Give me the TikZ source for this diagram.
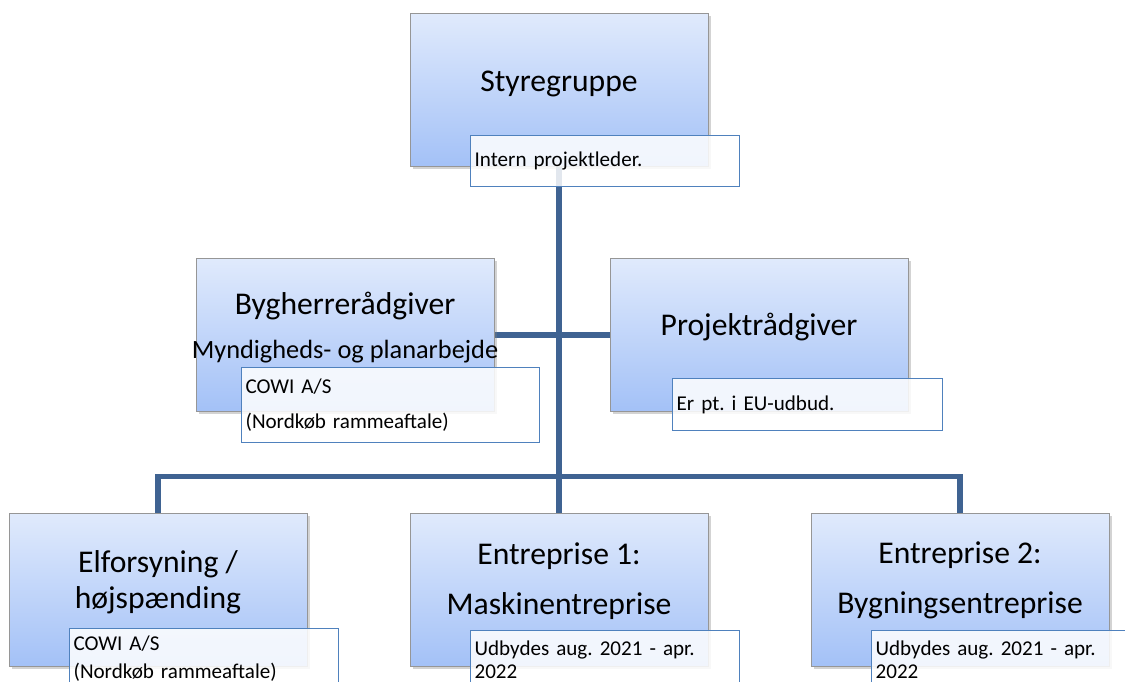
\documentclass[tikz,border=0pt]{standalone}
\usepackage{fontspec}
\setmainfont{Carlito}
\frenchspacing
\usetikzlibrary{shadows,backgrounds}
\definecolor{boxtop}{RGB}{224,234,252}
\definecolor{boxbot}{RGB}{163,193,247}
\definecolor{boxedge}{RGB}{150,150,150}
\definecolor{noteedge}{RGB}{79,129,189}
\definecolor{linkblue}{RGB}{63,99,146}
\newcommand{\subsize}{\fontsize{15}{18}\selectfont}
\tikzset{
  every picture/.style={line join=miter, x=0.02cm, y=-0.02cm},
  orgbox/.style={draw=boxedge, line width=0.5pt, top color=boxtop, bottom color=boxbot,
    minimum width=5.96cm, minimum height=3.06cm,
    drop shadow={opacity=0.35, shadow xshift=1.5pt, shadow yshift=-1.5pt}},
  orgtext/.style={font=\fontsize{18}{20}\selectfont, align=center, anchor=base, inner sep=0pt},
  notebox/.style={draw=noteedge, line width=0.7pt, fill=white, fill opacity=0.85, text opacity=1,
    anchor=north west, align=left, text width=5.22cm, inner xsep=0.08cm, inner ysep=0pt,
    font=\fontsize{12}{14.4}\selectfont},
  link/.style={draw=linkblue, line width=3.2pt},
}

\begin{document}
\begin{tikzpicture}
\useasboundingbox (0,0) rectangle (1125,682);
\clip (0,0) rectangle (1125,682);

% top
\node[orgbox] (styr) at (559,90) {};
\node[orgtext] (styrtxt) at (559,92) {Styregruppe};
\node[notebox, minimum height=1.02cm] (styrnote) at (470,135) {Intern projektleder.};

% middle row (base = last line)
\node[orgbox] (byg) at (345,335) {};
\node[orgtext] (bygtxt) at (345,358) {Bygherrerådgiver\\[5pt]{\subsize Myndigheds- og planarbejde}};
\node[orgbox] (proj) at (759,335) {};
\node[orgtext] (projtxt) at (759,335) {Projektrådgiver};
\node[notebox, text width=5.8cm, minimum height=1.5cm] (bygnote) at (241,367)
  {COWI A/S\\[5pt](Nordkøb rammeaftale)};
\node[notebox, text width=5.24cm, minimum height=1.04cm] (projnote) at (672,378) {Er pt. i EU-udbud.};

% bottom row
\node[orgbox] (elf) at (158,590) {};
\node[orgtext] (elftxt) at (158,608) {Elforsyning /\\højspænding};
\node[orgbox] (ent1) at (559,590) {};
\node[orgtext] (ent1txt) at (559,614) {Entreprise 1:\\[8pt]Maskinentreprise};
\node[orgbox] (ent2) at (960,590) {};
\node[orgtext] (ent2txt) at (960,613) {Entreprise 2:\\[8pt]Bygningsentreprise};
\node[notebox, minimum height=1.2cm] (elfnote) at (69,628) {COWI A/S\\[2pt](Nordkøb rammeaftale)};
\node[notebox, minimum height=1.16cm] (ent1note) at (470,630) {Udbydes aug. 2021 - apr.\\[-1pt]2022};
\node[notebox, minimum height=1.16cm] (ent2note) at (871,630) {Udbydes aug. 2021 - apr.\\[-1pt]2022};

\coordinate (bar) at (559,476.5);
\begin{scope}[on background layer]
\draw[link] (styr.south) -- (bar);
\draw[link] (byg.east) -- (proj.west);
\draw[link] (elf.north) |- (bar) -| (ent2.north);
\draw[link] (bar) -- (ent1.north);
\end{scope}
\end{tikzpicture}
\end{document}
